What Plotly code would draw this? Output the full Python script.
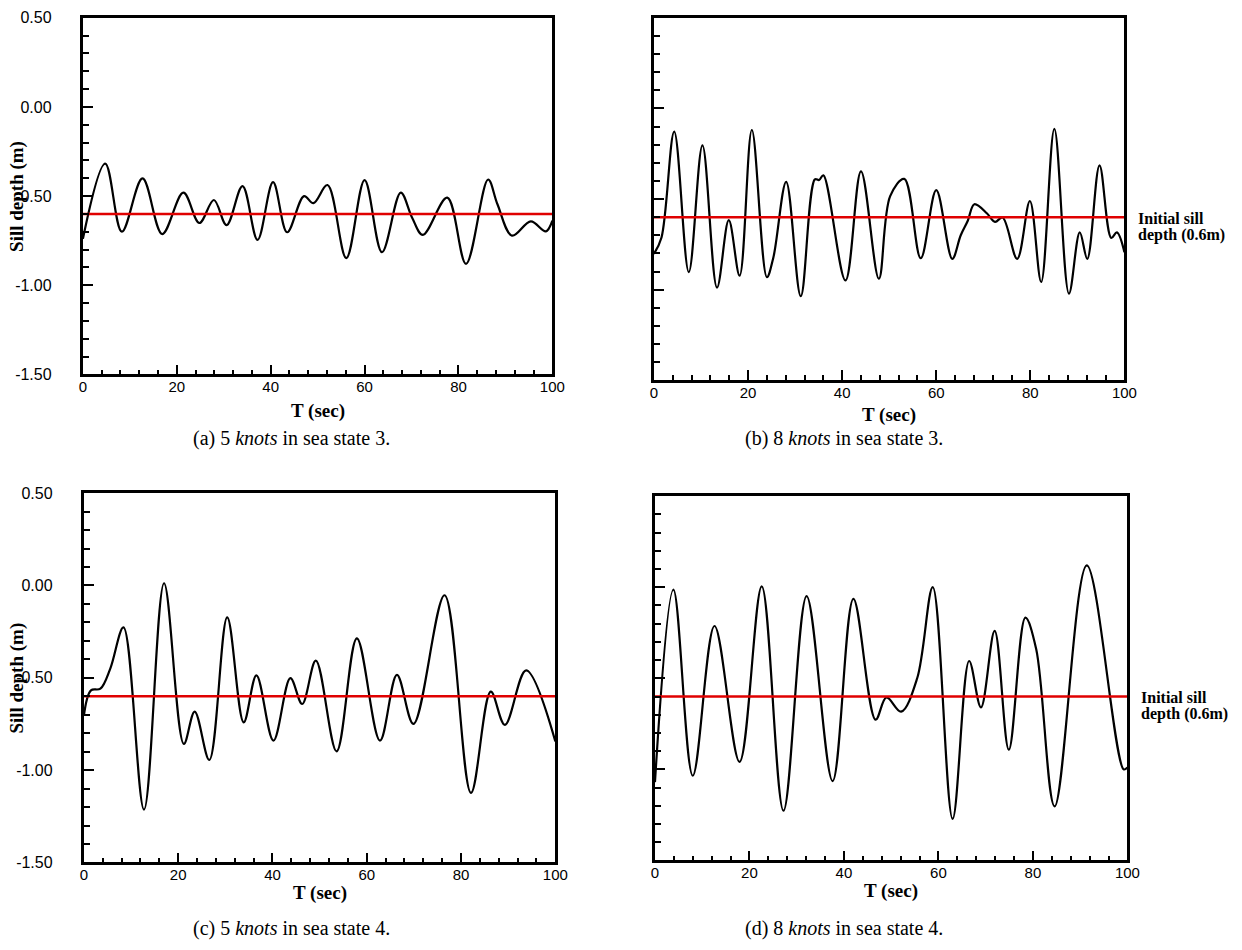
import plotly.graph_objects as go

# ---------------- data ----------------
# (a) 5 knots, sea state 3
t_a = [0, 4.75, 8.3, 12.7, 16.9, 21.4, 24.8, 27.9, 30.6, 34.0, 37.2, 40.5, 43.5,
       47.1, 49.1, 52.1, 56.1, 60.0, 63.7, 67.7, 70.1, 72.4, 77.6, 81.6, 86.3,
       88.3, 91.4, 95.4, 98.6, 100]
v_a = [-0.740, -0.318, -0.700, -0.401, -0.713, -0.481, -0.651, -0.522, -0.663,
       -0.444, -0.746, -0.422, -0.703, -0.500, -0.540, -0.438, -0.848, -0.410,
       -0.815, -0.481, -0.620, -0.718, -0.509, -0.880, -0.407, -0.546, -0.722,
       -0.642, -0.698, -0.638]

# (b) 8 knots, sea state 3
t_b = [0, 1.6, 4.3, 7.4, 10.3, 13.4, 15.9, 18.2, 20.8, 24.0, 25.4, 28.1, 31.2,
       34.2, 35.1, 36.0, 40.7, 44.0, 47.8, 50.2, 53.2, 56.7, 60.0, 63.4, 65.2,
       66.7, 68.1, 70.8, 72.5, 74.1, 77.2, 79.9, 82.3, 85.1, 88.2, 90.5, 92.1,
       94.7, 97.2, 98.4, 100]
v_b = [-0.803, -0.712, -0.128, -0.903, -0.204, -0.989, -0.617, -0.923, -0.119,
       -0.931, -0.820, -0.405, -1.036, -0.392, -0.395, -0.369, -0.949, -0.347,
       -0.940, -0.484, -0.389, -0.827, -0.451, -0.830, -0.700, -0.620, -0.529,
       -0.580, -0.626, -0.602, -0.830, -0.511, -0.958, -0.113, -1.022, -0.684,
       -0.830, -0.314, -0.715, -0.684, -0.794]

# (c) 5 knots, sea state 4
t_c = [0, 1.5, 3.5, 5.6, 8.4, 12.75, 17.0, 21.2, 23.5, 26.6, 30.4, 33.9, 36.6,
       40.2, 43.8, 46.3, 49.2, 53.6, 57.9, 62.8, 66.4, 69.9, 76.5, 82.1, 86.3,
       89.3, 93.8, 100]
v_c = [-0.705, -0.568, -0.559, -0.450, -0.227, -1.214, 0.012, -0.858, -0.683,
       -0.945, -0.173, -0.741, -0.487, -0.840, -0.502, -0.642, -0.407, -0.898,
       -0.286, -0.840, -0.484, -0.750, -0.053, -1.123, -0.575, -0.755, -0.460,
       -0.845]

# (d) 8 knots, sea state 4
t_d = [0, 3.9, 8.0, 12.6, 17.9, 22.6, 27.2, 32.1, 37.6, 42.0, 46.7, 49.0, 52.1,
       55.5, 58.8, 63.0, 66.5, 69.0, 71.9, 74.9, 78.4, 80.7, 84.6, 91.4, 99.2, 100]
v_d = [-1.07, -0.013, -1.035, -0.213, -0.959, 0.005, -1.227, -0.049, -1.064,
       -0.064, -0.727, -0.605, -0.683, -0.500, 0.000, -1.272, -0.405, -0.660,
       -0.240, -0.892, -0.167, -0.340, -1.203, 0.120, -1.000, -0.990]

initial_depth = -0.6
red_t = [0, 100]

x_ticks = [0, 20, 40, 60, 80, 100]
y_ticks = [0.5, 0.0, -0.5, -1.0, -1.5]
y_tick_text = ["0.50", "0.00", "-0.50", "-1.00", "-1.50"]

captions = ["(a) 5 <i>knots</i> in sea state 3.", "(b) 8 <i>knots</i> in sea state 3.",
            "(c) 5 <i>knots</i> in sea state 4.", "(d) 8 <i>knots</i> in sea state 4."]
x_title = "T (sec)"
y_title = "Sill depth (m)"
note_lines = ["Initial sill", "depth (0.6m)"]

# ---------------- layout geometry (pixels) ----------------
W, H = 1242, 950
panels = [  # left, right, top, bottom
    (80, 556, 10, 373),
    (659, 1136, 10, 379),
    (81, 559, 494, 870),
    (660, 1139, 497, 868),
]
# x-title and caption centres (y) in pixels
xtitle_y = [410, 414, 901, 899]
caption_pos = [(291, 438), (852, 438), (291, 937), (852, 937)]
series = [(t_a, v_a), (t_b, v_b), (t_c, v_c), (t_d, v_d)]

SERIF = "Liberation Serif, Times New Roman, serif"
SANS = "Liberation Sans, Arial, sans-serif"
PAD = "\u00a0\u00a0\u00a0"


def px(x):
    return x / W


def py(y):
    return 1 - y / H


fig = go.Figure()
layout = dict(width=W, height=H, margin=dict(l=0, r=0, t=0, b=0),
              paper_bgcolor="white", plot_bgcolor="white", showlegend=False)

annotations = []
for i, ((l, r, t, b), (tt, vv)) in enumerate(zip(panels, series)):
    n = "" if i == 0 else str(i + 1)
    xa, ya = "x" + n, "y" + n
    fig.add_trace(go.Scatter(x=tt, y=vv, mode="lines", xaxis=xa, yaxis=ya,
                             line=dict(color="black", width=2.2, shape="spline", smoothing=1.0),
                             hoverinfo="skip"))
    fig.add_trace(go.Scatter(x=red_t, y=[initial_depth] * len(red_t), mode="lines",
                             xaxis=xa, yaxis=ya, line=dict(color="#e00000", width=2.5),
                             hoverinfo="skip"))
    show_y_labels = i in (0, 2)
    layout["xaxis" + n] = dict(
        domain=[px(l), px(r)], range=[0, 100], anchor=ya,
        tickmode="array", tickvals=x_ticks, ticktext=[str(v) for v in x_ticks],
        ticks="inside", ticklen=10, tickwidth=2, tickcolor="black",
        minor=dict(dtick=4, tick0=0, ticks="inside", ticklen=5, tickwidth=1.5, tickcolor="black"),
        showline=True, linecolor="black", linewidth=2.5, mirror=True,
        showgrid=False, zeroline=False, ticklabelstandoff=-3,
        tickfont=dict(family=SANS, size=15, color="black"),
    )
    layout["yaxis" + n] = dict(
        domain=[py(b), py(t)], range=[-1.5, 0.5], anchor=xa,
        tickmode="array", tickvals=y_ticks, ticktext=[s + PAD for s in y_tick_text],
        showticklabels=show_y_labels,
        ticks="inside", ticklen=10, tickwidth=2, tickcolor="black",
        minor=dict(dtick=0.1, tick0=0, ticks="inside", ticklen=6, tickwidth=1.5, tickcolor="black"),
        showline=True, linecolor="black", linewidth=2.5, mirror=True,
        showgrid=False, zeroline=False, ticklabelstandoff=12,
        tickfont=dict(family=SANS, size=16, color="black"),
    )
    cx = (l + r) / 2
    annotations.append(dict(text="<b>" + x_title + "</b>", x=px(cx), y=py(xtitle_y[i]),
                            xref="paper", yref="paper", showarrow=False,
                            xanchor="center", yanchor="middle",
                            font=dict(family=SERIF, size=19, color="black")))
    capx, capy = caption_pos[i]
    annotations.append(dict(text=captions[i], x=px(capx), y=py(capy),
                            xref="paper", yref="paper", showarrow=False,
                            xanchor="center", yanchor="middle",
                            font=dict(family=SERIF, size=20, color="black")))
    if show_y_labels:
        annotations.append(dict(text="<b>" + y_title + "</b>", x=px(13), y=py((t + b) / 2),
                                xref="paper", yref="paper", showarrow=False, textangle=-90,
                                xanchor="center", yanchor="middle",
                                font=dict(family=SERIF, size=19, color="black")))
    else:
        ry = t + (b - t) * (0.5 - initial_depth) / 2.0
        for k, line in enumerate(note_lines):
            annotations.append(dict(text="<b>" + line + "</b>", x=px(r + 12), y=py(ry + 1 + 17 * k),
                                    xref="paper", yref="paper", showarrow=False,
                                    xanchor="left", yanchor="middle",
                                    font=dict(family=SERIF, size=16, color="black")))

layout["annotations"] = annotations
fig.update_layout(**layout)
fig.write_html("out.html")
